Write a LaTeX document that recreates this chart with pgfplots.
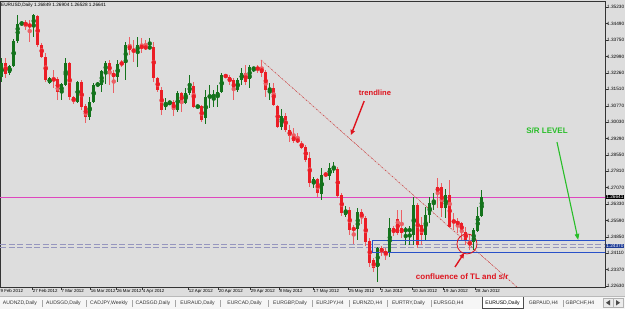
\documentclass[border=0pt]{standalone}
\usepackage{fontspec}
\setmainfont{Liberation Sans}
\usepackage{pgfplots}
\pgfplotsset{compat=1.18}
\usepackage{pgfplotstable}
\usetikzlibrary{arrows.meta}
\definecolor{bg}{RGB}{221,221,221}
\definecolor{cgreen}{RGB}{20,115,28}
\definecolor{cred}{RGB}{235,30,38}
\definecolor{credwick}{RGB}{236,95,100}
\definecolor{pinkline}{RGB}{222,70,190}
\definecolor{srblue}{RGB}{40,80,200}
\definecolor{srdash}{RGB}{150,150,190}
\definecolor{annred}{RGB}{222,20,30}
\definecolor{anngreen}{RGB}{40,190,40}
\definecolor{trendcol}{RGB}{205,70,70}
\newcommand\fs[1]{\fontsize{#1}{#1}\selectfont}

\pgfplotstableread{
i O H L C
1 1.3207 1.3293 1.3184 1.3270
2 1.3270 1.3293 1.3202 1.3220
3 1.3225 1.3261 1.3216 1.3257
4 1.3257 1.3379 1.3252 1.3370
5 1.3370 1.3487 1.3361 1.3446
6 1.3446 1.3455 1.3442 1.3451
7 1.3451 1.3464 1.3419 1.3442
8 1.3446 1.3464 1.3365 1.3433
9 1.3433 1.3491 1.3388 1.3487
10 1.3482 1.3487 1.3342 1.3351
11 1.3351 1.3361 1.3293 1.3297
12 1.3297 1.3315 1.3184 1.3193
13 1.3180 1.3207 1.3175 1.3202
14 1.3198 1.3238 1.3157 1.3193
15 1.3198 1.3207 1.3103 1.3139
16 1.3135 1.3180 1.3103 1.3175
17 1.3171 1.3293 1.3166 1.3270
18 1.3270 1.3275 1.3103 1.3117
19 1.3117 1.3121 1.3085 1.3094
20 1.3094 1.3189 1.3090 1.3184
21 1.3184 1.3193 1.3058 1.3071
22 1.3076 1.3085 1.2999 1.3026
23 1.3026 1.3117 1.3013 1.3094
24 1.3094 1.3180 1.3090 1.3171
25 1.3171 1.3184 1.3162 1.3175
26 1.3171 1.3238 1.3139 1.3234
27 1.3230 1.3279 1.3175 1.3270
28 1.3270 1.3284 1.3171 1.3225
29 1.3225 1.3238 1.3135 1.3207
30 1.3207 1.3284 1.3184 1.3266
31 1.3270 1.3284 1.3252 1.3266
32 1.3270 1.3365 1.3193 1.3351
33 1.3351 1.3388 1.3306 1.3329
34 1.3329 1.3374 1.3275 1.3324
35 1.3324 1.3388 1.3252 1.3351
36 1.3347 1.3383 1.3315 1.3338
37 1.3342 1.3374 1.3329 1.3338
38 1.3338 1.3383 1.3333 1.3342
39 1.3342 1.3365 1.3184 1.3202
40 1.3202 1.3207 1.3139 1.3148
41 1.3148 1.3162 1.3035 1.3058
42 1.3071 1.3112 1.3058 1.3090
43 1.3090 1.3098 1.3080 1.3094
44 1.3094 1.3103 1.3031 1.3058
45 1.3058 1.3144 1.3049 1.3135
46 1.3135 1.3139 1.3049 1.3090
47 1.3090 1.3157 1.3085 1.3135
48 1.3135 1.3216 1.3126 1.3171
49 1.3166 1.3184 1.3067 1.3071
50 1.3071 1.3080 1.3067 1.3076
51 1.3076 1.3080 1.3004 1.3013
52 1.3022 1.3148 1.2995 1.3117
53 1.3117 1.3171 1.3067 1.3121
54 1.3117 1.3148 1.3071 1.3126
55 1.3117 1.3171 1.3071 1.3139
56 1.3139 1.3225 1.3135 1.3216
57 1.3216 1.3220 1.3202 1.3207
58 1.3207 1.3216 1.3171 1.3184
59 1.3193 1.3202 1.3103 1.3148
60 1.3148 1.3202 1.3139 1.3193
61 1.3193 1.3248 1.3171 1.3225
62 1.3225 1.3261 1.3171 1.3184
63 1.3198 1.3261 1.3157 1.3252
64 1.3243 1.3252 1.3230 1.3248
65 1.3248 1.3261 1.3225 1.3243
66 1.3248 1.3284 1.3207 1.3225
67 1.3230 1.3238 1.3117 1.3148
68 1.3144 1.3180 1.3103 1.3157
69 1.3157 1.3180 1.3076 1.3080
70 1.3076 1.3080 1.2977 1.2981
71 1.2981 1.3062 1.2968 1.3031
72 1.3031 1.3044 1.2959 1.2968
73 1.2968 1.2990 1.2913 1.2940
74 1.2940 1.2977 1.2909 1.2918
75 1.2927 1.2954 1.2909 1.2913
76 1.2909 1.2918 1.2882 1.2886
77 1.2891 1.2900 1.2823 1.2832
78 1.2841 1.2868 1.2710 1.2728
79 1.2724 1.2755 1.2706 1.2746
80 1.2746 1.2751 1.2665 1.2683
81 1.2679 1.2796 1.2651 1.2764
82 1.2769 1.2778 1.2755 1.2764
83 1.2760 1.2819 1.2742 1.2796
84 1.2787 1.2823 1.2773 1.2800
85 1.2791 1.2800 1.2661 1.2670
86 1.2674 1.2683 1.2579 1.2593
87 1.2584 1.2624 1.2575 1.2606
88 1.2606 1.2620 1.2493 1.2516
89 1.2525 1.2539 1.2453 1.2516
90 1.2520 1.2615 1.2471 1.2597
91 1.2597 1.2611 1.2543 1.2570
92 1.2570 1.2579 1.2444 1.2462
93 1.2466 1.2480 1.2349 1.2367
94 1.2380 1.2389 1.2326 1.2344
95 1.2349 1.2439 1.2281 1.2434
96 1.2434 1.2444 1.2399 1.2417
97 1.2421 1.2434 1.2380 1.2403
98 1.2412 1.2570 1.2394 1.2525
99 1.2525 1.2534 1.2489 1.2502
100 1.2566 1.2606 1.2493 1.2502
101 1.2525 1.2606 1.2480 1.2502
102 1.2511 1.2530 1.2448 1.2520
103 1.2511 1.2534 1.2448 1.2520
104 1.2493 1.2665 1.2448 1.2629
105 1.2629 1.2638 1.2434 1.2448
106 1.2539 1.2575 1.2448 1.2493
107 1.2493 1.2620 1.2471 1.2584
108 1.2584 1.2665 1.2548 1.2638
109 1.2633 1.2683 1.2606 1.2642
110 1.2710 1.2751 1.2615 1.2688
111 1.2710 1.2728 1.2575 1.2615
112 1.2615 1.2701 1.2570 1.2674
113 1.2674 1.2742 1.2525 1.2530
114 1.2561 1.2593 1.2516 1.2548
115 1.2557 1.2570 1.2502 1.2539
116 1.2548 1.2552 1.2471 1.2507
117 1.2507 1.2530 1.2448 1.2471
118 1.2462 1.2493 1.2426 1.2448
119 1.2462 1.2525 1.2426 1.2516
120 1.2511 1.2620 1.2507 1.2579
121 1.2579 1.2697 1.2575 1.2665
}\candles

\begin{document}
\begin{tikzpicture}[x=1pt,y=1pt]
\useasboundingbox (0,-22) rectangle (625,287);
\fill[bg] (0,-22) rectangle (625,287);
\fill[gray!7] (0,-22) rectangle (625,-9.5);
\draw[gray!55, line width=0.5pt] (0,-9.5) -- (625,-9.5);
\begin{axis}[
  scale only axis, width=605pt, height=286pt,
  at={(0pt,0pt)}, anchor=south west,
  xmin=0.575, xmax=151.8, ymin=1.22585, ymax=1.35501,
  axis line style={black!80, line width=0.5pt},
  xtick pos=bottom, ytick pos=right, yticklabel pos=right,
  tick align=outside, major tick length=2.5pt,
  tick style={black!80, line width=0.4pt},
  ytick={1.22630,1.23370,1.24110,1.24850,1.25590,1.26330,1.27070,1.27810,1.28550,1.29290,1.30030,1.30770,1.31510,1.32260,1.32990,1.33750,1.34490,1.35230},
  yticklabels={1.22630,1.23370,1.24110,1.24850,1.25590,1.26330,1.27070,1.27810,1.28550,1.29290,1.30030,1.30770,1.31510,1.32260,1.32990,1.33750,1.34490,1.35230},
  yticklabel style={font=\fs{4.7}, anchor=west, xshift=-1.5pt, inner sep=1pt},
  xtick={8.6,15.8,23.1,29.6,36.1,47.6,55.1,63.1,70.3,78.8,87.6,95.6,103.6,111.3,119.3},
  xticklabels={27 Feb 2012,7 Mar 2012,16 Mar 2012,26 Mar 2012,4 Apr 2012,12 Apr 2012,20 Apr 2012,29 Apr 2012,8 May 2012,17 May 2012,25 May 2012,2 Jun 2012,10 Jun 2012,19 Jun 2012,28 Jun 2012},
  xticklabel style={font=\fs{4.4}, anchor=north west, xshift=-0.5pt, yshift=1.5pt, inner sep=1pt},
  axis background/.style={fill=bg},
]
% S/R level lines
\addplot[draw=srdash, line width=1.1pt, dash pattern=on 6pt off 2.5pt] coordinates {(0.575,1.2450) (151.8,1.2450)};
\addplot[draw=srdash, line width=1.1pt, dash pattern=on 6pt off 2.5pt] coordinates {(0.575,1.2435) (151.8,1.2435)};
% horizontal pink line (level 1.26641)
\addplot[draw=pinkline, line width=1.2pt, mark=none] coordinates {(0.575,1.26641) (151.8,1.26641)};
% trendline
\addplot[draw=trendcol, line width=0.6pt, dash pattern=on 2pt off 1pt on 0.6pt off 1pt] coordinates {(65.8,1.3284) (129.8,1.22585)};
% wicks
\addplot[color=cgreen, only marks, mark=none, restrict expr to domain={\thisrow{C}-\thisrow{O}}{0:1},
  error bars/.cd, y dir=both, y explicit, error mark=none,
  error bar style={color=cgreen, line width=1pt}]
  table[x=i, y expr={(\thisrow{H}+\thisrow{L})/2}, y error expr={(\thisrow{H}-\thisrow{L})/2}] {\candles};
\addplot[color=credwick, only marks, mark=none, restrict expr to domain={\thisrow{C}-\thisrow{O}}{-1:0},
  error bars/.cd, y dir=both, y explicit, error mark=none,
  error bar style={color=credwick, line width=1pt}]
  table[x=i, y expr={(\thisrow{H}+\thisrow{L})/2}, y error expr={(\thisrow{H}-\thisrow{L})/2}] {\candles};
% bodies
\addplot[color=cgreen, only marks, mark=none, restrict expr to domain={\thisrow{C}-\thisrow{O}}{0:1},
  error bars/.cd, y dir=both, y explicit, error mark=none,
  error bar style={color=cgreen, line width=3pt}]
  table[x=i, y expr={(\thisrow{O}+\thisrow{C})/2}, y error expr={max(abs(\thisrow{C}-\thisrow{O})/2,0.00025)}] {\candles};
\addplot[color=cred, only marks, mark=none, restrict expr to domain={\thisrow{C}-\thisrow{O}}{-1:0},
  error bars/.cd, y dir=both, y explicit, error mark=none,
  error bar style={color=cred, line width=3pt}]
  table[x=i, y expr={(\thisrow{O}+\thisrow{C})/2}, y error expr={max(abs(\thisrow{C}-\thisrow{O})/2,0.00025)}] {\candles};
% S/R box
\draw[srblue, line width=0.8pt] (axis cs:93.6,1.2417) rectangle (axis cs:152,1.2471);
% annotations
\draw[annred, line width=0.8pt] (axis cs:117.3,1.2453) circle[radius=10pt];
\node[annred, font=\bfseries\fs{8}] at (axis cs:116.1,1.2304) {confluence of TL and s/r};
\draw[annred, line width=1.4pt, -{Triangle[length=5pt,width=4.5pt]}] (axis cs:114.3,1.2349) -- (axis cs:116.6,1.2412);
\node[annred, font=\bfseries\fs{7.6}] at (axis cs:94.3,1.3135) {trendline};
\draw[annred, line width=1.4pt, -{Triangle[length=5pt,width=4.5pt]}] (axis cs:91.6,1.3098) -- (axis cs:88.3,1.2945);
\node[anngreen, font=\bfseries\fs{8}] at (axis cs:137.3,1.2963) {S/R LEVEL};
\draw[anngreen, line width=1.1pt, -{Triangle[length=6pt,width=4.5pt]}] (axis cs:139.8,1.2913) -- (axis cs:145.1,1.2471);
\end{axis}
% title
\node[anchor=west, font=\fs{4.7}, inner sep=0pt] at (1,282) {EURUSD,Daily 1.26849 1.26904 1.26528 1.26641};
% first partial date label
\node[anchor=north west, font=\fs{4.4}, inner sep=1pt] at (-0.5,-1) {9 Feb 2012};
% price boxes on the scale
\node[fill=black, text=white, font=\fs{4.7}, inner sep=0.7pt, anchor=west] at (605.5,90) {1.26641};
\node[fill=srblue!75!black, text=white, font=\fs{4.7}, inner sep=0.7pt, anchor=west] at (605.5,41) {1.24370};
% tab bar
\fill[white] (482,-21.5) rectangle (523,-9.5);
\draw[black!70, line width=0.5pt] (482,-9.5) -- (482,-21.5) -- (523,-21.5) -- (523,-9.5);
\begin{scope}[font=\fs{5.1}, black!80]
\node at (20,-16) {AUDNZD,Daily};
\node at (63.5,-16) {AUDSGD,Daily};
\node at (109,-16) {CADJPY,Weekly};
\node at (153,-16) {CADSGD,Daily};
\node at (197.5,-16) {EURAUD,Daily};
\node at (244.5,-16) {EURCAD,Daily};
\node at (290,-16) {EURGBP,Daily};
\node at (330,-16) {EURJPY,H4};
\node at (367.5,-16) {EURNZD,H4};
\node at (408.5,-16) {EURTRY,Daily};
\node at (448.5,-16) {EURSGD,H4};
\node[black] at (502.5,-16) {EURUSD,Daily};
\node at (543.5,-16) {GBPAUD,H4};
\node at (580,-16) {GBPCHF,H4};
\end{scope}
\foreach \s in {42,86,132,175,220,268,312,349,387,431,563}
  \draw[gray!70, line width=0.4pt] (\s,-19.5) -- (\s,-12.5);
% scroll buttons
\draw[gray!60, fill=gray!15] (603,-20.5) rectangle (613,-11) (613,-20.5) rectangle (623,-11);
\fill[black!70] (610,-18.5) -- (606,-15.75) -- (610,-13) -- cycle;
\fill[black!70] (616,-18.5) -- (620,-15.75) -- (616,-13) -- cycle;
\end{tikzpicture}
\end{document}
